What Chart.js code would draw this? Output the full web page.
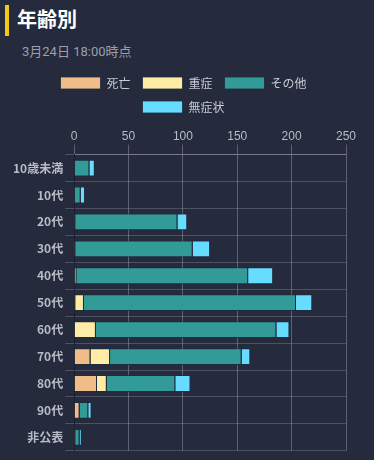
<!DOCTYPE html>
<html>
<head>
<meta charset="utf-8">
<script src="https://cdn.jsdelivr.net/npm/chart.js@4"></script>
<style>
  body { margin: 0; background: #252a3d; font-family: Roboto, "Noto Sans CJK JP", sans-serif; width: 374px; height: 460px; overflow: hidden; }
  h2 { margin: 0; position: absolute; left: 5px; top: 5px; height: 31px; border-left: 4px solid #f2c81b; padding-left: 8px; color: #fff; font-size: 20px; line-height: 31px; font-weight: bold; }
  .sub { position: absolute; left: 22px; top: 41px; margin: 0; color: #9aa0ad; font-size: 13px; }
  #wrap { position: absolute; left: 0; top: 65px; width: 374px; height: 395px; }
</style>
</head>
<body>
<h2>年齢別</h2>
<p class="sub">3月24日 18:00時点</p>
<div id="wrap"><canvas id="myChart"></canvas></div>
<script>
const labels = ['10歳未満', '10代', '20代', '30代', '40代', '50代', '60代', '70代', '80代', '90代', '非公表'];
const death = [0, 0, 1, 1, 0, 1, 0, 15, 21, 5, 1];
const severe = [0, 0, 0, 0, 2, 8, 20, 18, 9, 0, 0];
const other = [14, 6, 94, 108, 158, 195, 166, 121, 63, 8, 4];
const asymptomatic = [5, 4, 9, 16, 23, 15, 12, 8, 14, 3, 2];
const xTicks = [0, 50, 100, 150, 200, 250];

function makeSet(label, data, color) {
    return {
        label: label,
        data: data,
        backgroundColor: color,
        borderColor: 'rgba(30,45,65,0.8)',
        borderWidth: 1,
        barPercentage: 0.78,
        categoryPercentage: 0.8
    };
}

// legend sits a few px right of the chart-area centre in the original
const shiftLegend = {
    id: 'shiftLegend',
    afterLayout(chart) {
        chart.legend.left += 5;
        chart.legend.right += 5;
    }
};

function initChart(chart) {
    return new Chart(chart, {
        type: 'bar',
        data: {
            labels: labels,
            datasets: [
                makeSet('死亡', death, '#f0bc88'),
                makeSet('重症', severe, '#ffeda6'),
                makeSet('その他', other, '#339b97'),
                makeSet('無症状', asymptomatic, '#66ddff')
            ]
        },
        plugins: [shiftLegend],
        options: {
            indexAxis: 'y',
            responsive: true,
            maintainAspectRatio: false,
            animation: false,
            layout: { padding: { left: 11, right: 28, bottom: 1 } },
            plugins: {
                legend: {
                    labels: {
                        color: '#c8ccd4',
                        boxWidth: 40,
                        boxHeight: 12,
                        padding: 12,
                        font: { size: 12, family: '"Noto Sans CJK JP", sans-serif' }
                    }
                },
                tooltip: { enabled: false }
            },
            scales: {
                x: {
                    position: 'top',
                    stacked: true,
                    min: 0,
                    max: 250,
                    afterBuildTicks: (axis) => { axis.ticks = xTicks.map(v => ({ value: v })); },
                    // empty title only adds a little space above the tick labels
                    title: { display: true, text: '', padding: 0, font: { size: 6, lineHeight: 1 } },
                    ticks: { color: '#b8bcc6', font: { size: 12, lineHeight: 1.3 }, padding: 0 },
                    grid: { color: 'rgba(200,200,215,0.35)', tickLength: 10 },
                    border: { color: 'rgba(200,200,215,0.35)' }
                },
                y: {
                    stacked: true,
                    ticks: { color: '#b8bcc6', font: { size: 12, weight: 'bold', family: '"Noto Sans CJK JP", sans-serif' }, padding: 2 },
                    grid: { color: 'rgba(200,200,215,0.25)', tickLength: 9 },
                    border: { color: '#1b2030' }
                }
            }
        }
    });
}

document.addEventListener('DOMContentLoaded', () => initChart(document.querySelector('#myChart')));
</script>
</body>
</html>
